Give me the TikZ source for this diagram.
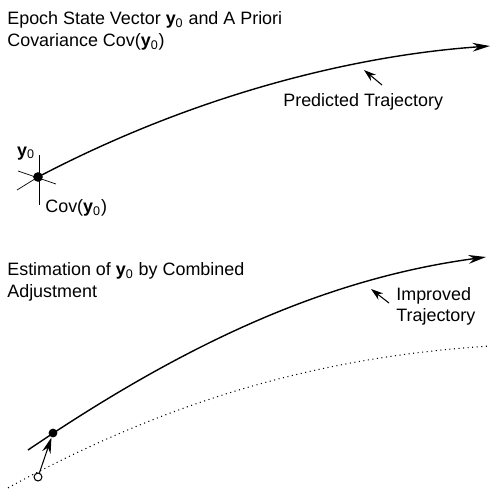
\documentclass[tikz,border=0pt]{standalone}
\usepackage{fontspec}
\setmainfont{Liberation Sans}
\usepackage{tikz}
\usetikzlibrary{arrows.meta}

\newcommand{\yvec}{\textbf{y}\textsubscript{0}}

\begin{document}
\begin{tikzpicture}[x=0.02cm,y=-0.02cm,font=\fontsize{10.2}{12}\selectfont,
        >={Stealth[length=7pt,width=4.5pt]}]
        \useasboundingbox (0,0) rectangle (492,488);

        %------------------
        % 上段：予測軌道
        %------------------

        \node[anchor=west,inner sep=0] (title1) at (7,20) {Epoch State Vector \yvec{} and A Priori};
        \node[anchor=west,inner sep=0] (title2) at (7,42) {Covariance Cov(\yvec)};

        \node[circle,fill=black,inner sep=0,minimum size=5.5pt] (y0) at (38,177) {};
        \coordinate (pend) at (490,46);
        \draw[-{Stealth[length=10pt,width=5pt]},thick] (y0.center) .. controls (200,92) and (360,55) .. (pend);

        % 共分散の十字
        \coordinate (ca) at (39,155);
        \coordinate (cb) at (39,205);
        \coordinate (cc) at (17,190);
        \coordinate (cd) at (18,171);
        \coordinate (ce) at (56,184);
        \draw[thin] (ca) -- (cb);
        \draw[thin] (cc) -- (y0.center);
        \draw[thin] (cd) -- (ce);

        \node[anchor=south east,inner sep=1pt] (ylab) at (37,162) {\yvec};
        \node[anchor=west,inner sep=0] (covlab) at (45,208) {Cov(\yvec)};

        % ラベル
        \node[anchor=west,inner sep=0] (pred) at (283,102) {Predicted Trajectory};
        \coordinate (pa) at (382,85);
        \coordinate (pb) at (364,70);
        \draw[->,semithick] (pa) -- (pb);

        %------------------
        % 下段：改良軌道
        %------------------

        \node[anchor=west,inner sep=0] (title3) at (7,271) {Estimation of \yvec{} by Combined};
        \node[anchor=west,inner sep=0] (title4) at (7,293) {Adjustment};

        \coordinate (istart) at (28,450);
        \coordinate (iend) at (486,257);
        \node[circle,fill=black,inner sep=0,minimum size=5pt] (ynew) at (53,433) {};
        \draw[-{Stealth[length=10pt,width=5pt]},thick] (istart) .. controls (190,340) and (330,278) .. (iend);

        % 旧軌道（点線）
        \coordinate (dstart) at (4,490);
        \coordinate (dend) at (490,346);
        \draw[dotted,semithick] (dstart) .. controls (150,410) and (300,358) .. (dend);
        \node[circle,draw,semithick,fill=white,inner sep=0,minimum size=4.5pt] (yold) at (38,477) {};

        \draw[-{Stealth[length=9pt,width=5pt]},semithick] (yold) -- (ynew);

        % ラベル
        \node[anchor=north west,inner sep=0,align=left] (impr) at (396,287) {Improved\\Trajectory};
        \coordinate (ia) at (389,303);
        \coordinate (ib) at (371,289);
        \draw[->,semithick] (ia) -- (ib);
\end{tikzpicture}
\end{document}
